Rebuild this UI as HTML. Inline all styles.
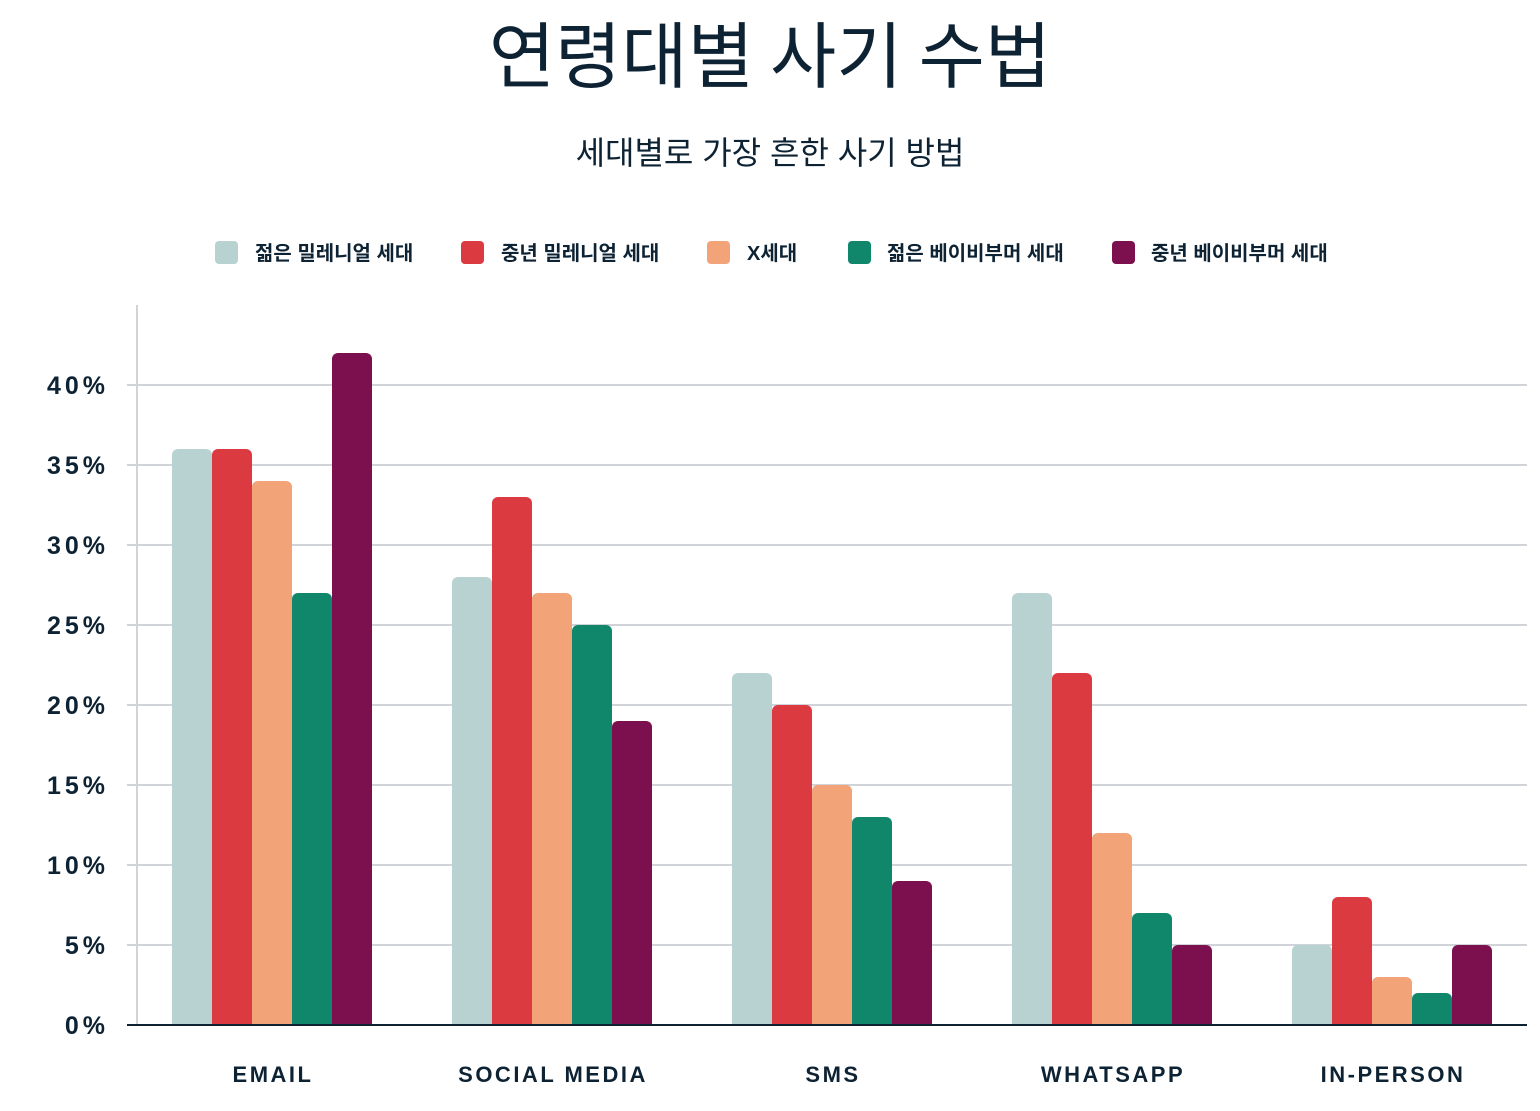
<!DOCTYPE html>
<html><head><meta charset="utf-8"><style>
html,body{margin:0;padding:0;background:#fff;}
svg{display:block;}
text{font-family:"Liberation Sans","Noto Sans CJK KR",sans-serif;fill:#0d2233;}
</style></head><body>
<svg width="1540" height="1111" viewBox="0 0 1540 1111" xmlns="http://www.w3.org/2000/svg">
<defs><clipPath id="c"><rect x="0" y="0" width="1540" height="1024"/></clipPath></defs>
<text x="770" y="82" text-anchor="middle" font-size="72" font-weight="400" style="font-family:'Noto Sans CJK KR',sans-serif">연령대별 사기 수법</text>
<text x="770" y="164" text-anchor="middle" font-size="32">세대별로 가장 흔한 사기 방법</text>
<g font-size="20" font-weight="bold">
<rect x="215" y="241" width="23" height="23" rx="4" fill="#b8d1d1"/><text x="255" y="260">젊은 밀레니얼 세대</text>
<rect x="461" y="241" width="23" height="23" rx="4" fill="#db3a40"/><text x="501" y="260">중년 밀레니얼 세대</text>
<rect x="707" y="241" width="23" height="23" rx="4" fill="#f2a378"/><text x="747" y="260">X세대</text>
<rect x="848" y="241" width="23" height="23" rx="4" fill="#10866b"/><text x="887" y="260">젊은 베이비부머 세대</text>
<rect x="1112" y="241" width="23" height="23" rx="4" fill="#7c0f4e"/><text x="1151" y="260">중년 베이비부머 세대</text>
</g>
<g stroke="#d0d4d8" stroke-width="2">
<line x1="137" y1="305" x2="137" y2="1025"/>
<line x1="127" y1="385" x2="1527" y2="385"/>
<line x1="127" y1="465" x2="1527" y2="465"/>
<line x1="127" y1="545" x2="1527" y2="545"/>
<line x1="127" y1="625" x2="1527" y2="625"/>
<line x1="127" y1="705" x2="1527" y2="705"/>
<line x1="127" y1="785" x2="1527" y2="785"/>
<line x1="127" y1="865" x2="1527" y2="865"/>
<line x1="127" y1="945" x2="1527" y2="945"/>
</g>
<g font-size="25" font-weight="bold" text-anchor="end" letter-spacing="4">
<text x="109" y="394">40%</text><text x="109" y="474">35%</text><text x="109" y="554">30%</text>
<text x="109" y="634">25%</text><text x="109" y="714">20%</text><text x="109" y="794">15%</text>
<text x="109" y="874">10%</text><text x="109" y="954">5%</text><text x="109" y="1034">0%</text>
</g>
<g clip-path="url(#c)">
<rect x="172" y="449" width="40" height="590" rx="6" fill="#b8d1d1"/>
<rect x="212" y="449" width="40" height="590" rx="6" fill="#db3a40"/>
<rect x="252" y="481" width="40" height="560" rx="6" fill="#f2a378"/>
<rect x="292" y="593" width="40" height="450" rx="6" fill="#10866b"/>
<rect x="332" y="353" width="40" height="690" rx="6" fill="#7c0f4e"/>

<rect x="452" y="577" width="40" height="460" rx="6" fill="#b8d1d1"/>
<rect x="492" y="497" width="40" height="540" rx="6" fill="#db3a40"/>
<rect x="532" y="593" width="40" height="450" rx="6" fill="#f2a378"/>
<rect x="572" y="625" width="40" height="420" rx="6" fill="#10866b"/>
<rect x="612" y="721" width="40" height="320" rx="6" fill="#7c0f4e"/>

<rect x="732" y="673" width="40" height="370" rx="6" fill="#b8d1d1"/>
<rect x="772" y="705" width="40" height="330" rx="6" fill="#db3a40"/>
<rect x="812" y="785" width="40" height="250" rx="6" fill="#f2a378"/>
<rect x="852" y="817" width="40" height="220" rx="6" fill="#10866b"/>
<rect x="892" y="881" width="40" height="160" rx="6" fill="#7c0f4e"/>

<rect x="1012" y="593" width="40" height="450" rx="6" fill="#b8d1d1"/>
<rect x="1052" y="673" width="40" height="370" rx="6" fill="#db3a40"/>
<rect x="1092" y="833" width="40" height="210" rx="6" fill="#f2a378"/>
<rect x="1132" y="913" width="40" height="130" rx="6" fill="#10866b"/>
<rect x="1172" y="945" width="40" height="100" rx="6" fill="#7c0f4e"/>

<rect x="1292" y="945" width="40" height="100" rx="6" fill="#b8d1d1"/>
<rect x="1332" y="897" width="40" height="150" rx="6" fill="#db3a40"/>
<rect x="1372" y="977" width="40" height="80" rx="6" fill="#f2a378"/>
<rect x="1412" y="993" width="40" height="60" rx="6" fill="#10866b"/>
<rect x="1452" y="945" width="40" height="100" rx="6" fill="#7c0f4e"/>
</g>
<line x1="127" y1="1025" x2="1527" y2="1025" stroke="#0d2233" stroke-width="2"/>
<g font-size="22" font-weight="bold" text-anchor="middle" letter-spacing="2.5">
<text x="273" y="1082">EMAIL</text>
<text x="553" y="1082">SOCIAL MEDIA</text>
<text x="833" y="1082">SMS</text>
<text x="1113" y="1082">WHATSAPP</text>
<text x="1393" y="1082">IN-PERSON</text>
</g>
</svg>
</body></html>
